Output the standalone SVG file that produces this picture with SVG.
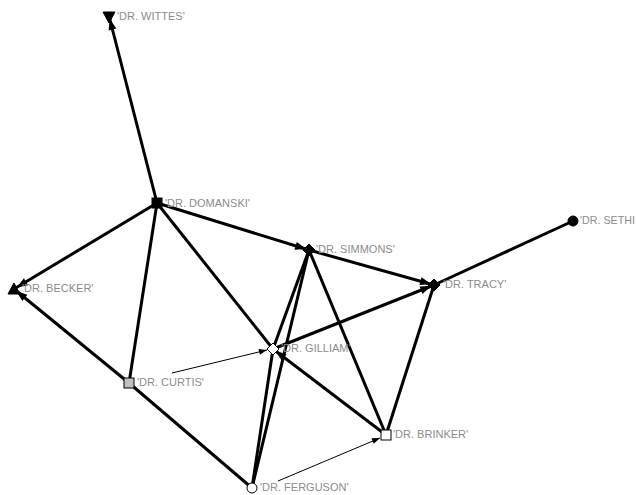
<svg xmlns="http://www.w3.org/2000/svg" width="637" height="495" viewBox="0 0 637 495">
<style>
.e{stroke:#000;stroke-width:3;fill:none;stroke-linecap:butt}
.a{marker-end:url(#ah)}
.t{stroke:#000;stroke-width:1;fill:none;marker-end:url(#ahs)}
.lbl{font-family:"Liberation Sans",Arial,sans-serif;font-size:11px;fill:#8c8c8c}
.n{stroke:#000;stroke-width:1}
</style>
<defs>
<marker id="ah" markerUnits="userSpaceOnUse" markerWidth="11" markerHeight="8" viewBox="0 0 11 8" refX="14" refY="4" orient="auto" overflow="visible">
<path d="M0,0 L11,4 L0,8 z" fill="#000"/>
</marker>
<marker id="ahs" markerUnits="userSpaceOnUse" markerWidth="8" markerHeight="6" viewBox="0 0 8 6" refX="8" refY="3" orient="auto" overflow="visible">
<path d="M0,0 L8,3 L0,6 z" fill="#000"/>
</marker>
</defs>
<rect width="637" height="495" fill="#fff"/>
<g id="connectors">
<line class="e a" x1="157" y1="203" x2="109" y2="16"/>
<line class="e a" x1="157" y1="203" x2="309" y2="250"/>
<line class="e a" x1="157" y1="203" x2="14" y2="289"/>
<line class="e" x1="157" y1="203" x2="129" y2="383"/>
<line class="e" x1="157" y1="203" x2="273" y2="349"/>
<line class="e a" x1="309" y1="250" x2="434" y2="285"/>
<line class="e" x1="273" y1="349" x2="309" y2="250"/>
<line class="e" x1="309" y1="250" x2="252" y2="488"/>
<line class="e" x1="309" y1="250" x2="386" y2="435"/>
<line class="e" x1="434" y1="285" x2="573" y2="221"/>
<line class="e a" x1="273" y1="349" x2="434" y2="285"/>
<line class="e" x1="434" y1="285" x2="386" y2="435"/>
<line class="e a" x1="386" y1="435" x2="273" y2="349"/>
<line class="e" x1="273" y1="349" x2="252" y2="488"/>
<line class="e" x1="129" y1="383" x2="252" y2="488"/>
<line class="e a" x1="129" y1="383" x2="14" y2="289"/>
<line class="t" x1="172" y1="373" x2="267" y2="350"/>
<line class="t" x1="278" y1="481" x2="380" y2="438"/>
</g>
<g id="n-wittes"><polygon class="n" points="103,12 115,12 109,23" fill="#000"/><text class="lbl" x="117" y="20">'DR. WITTES'</text></g>
<g id="n-domanski"><rect class="n" x="152" y="198" width="10" height="10" fill="#000"/><text class="lbl" x="165" y="207">'DR. DOMANSKI'</text></g>
<g id="n-simmons"><polygon class="n" points="309,244 315,250 309,256 303,250" fill="#000"/><text class="lbl" x="316" y="253">'DR. SIMMONS'</text></g>
<g id="n-tracy"><polygon class="n" points="434,279 440,285 434,291 428,285" fill="#000"/><text class="lbl" x="443" y="288">'DR. TRACY'</text></g>
<g id="n-sethi"><circle class="n" cx="573" cy="221" r="5" fill="#000"/><text class="lbl" x="580" y="224" textLength="55" lengthAdjust="spacingAndGlyphs">'DR. SETHI</text></g>
<g id="n-becker"><polygon class="n" points="14,283 20,294 8,294" fill="#000"/><text class="lbl" x="22" y="292">'DR. BECKER'</text></g>
<g id="n-gilliam"><polygon class="n" points="273,343 279,349 273,355 267,349" fill="#fff"/><text class="lbl" x="281" y="352">'DR. GILLIAM'</text></g>
<g id="n-curtis"><rect class="n" x="124" y="378" width="10" height="10" fill="#c0c0c0"/><text class="lbl" x="137" y="386">'DR. CURTIS'</text></g>
<g id="n-brinker"><rect class="n" x="381" y="430" width="10" height="10" fill="#fff"/><text class="lbl" x="393" y="438">'DR. BRINKER'</text></g>
<g id="n-ferguson"><circle class="n" cx="252" cy="488" r="5" fill="#fff"/><text class="lbl" x="260" y="491">'DR. FERGUSON'</text></g>
</svg>
